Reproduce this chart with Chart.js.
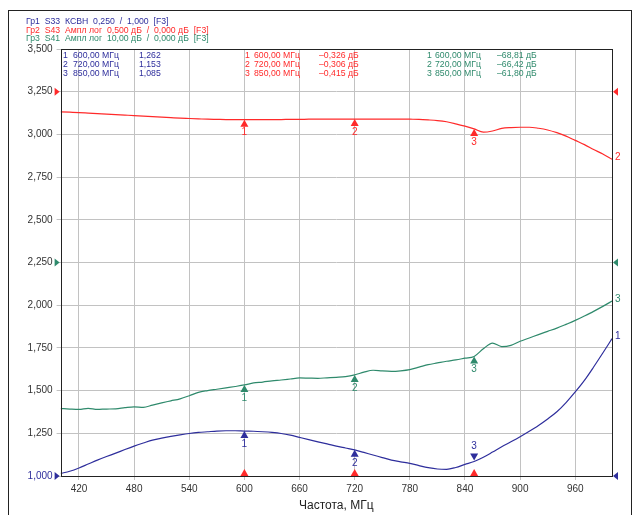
<!DOCTYPE html>
<html>
<head>
<meta charset="utf-8">
<script src="https://cdn.jsdelivr.net/npm/chart.js@4.4.1/dist/chart.umd.min.js"></script>
<style>
  html, body { margin: 0; padding: 0; background: #fff; overflow: hidden; }
  .wrap { position: relative; width: 636px; height: 515px; }
  .frame { position: absolute; left: 8px; top: 10px; width: 624px; height: 520px; border: 1px solid #222; box-sizing: border-box; }
  .chart { position: absolute; left: 0; top: 0; }
</style>
</head>
<body>
<div class="wrap">
  <div class="frame"></div>
  <canvas class="chart" width="636" height="515"></canvas>
</div>
<script>
(function() {

    // sweep frequencies, MHz
    let freqs = [
      400, 410, 420, 430, 440, 450, 460, 470, 480, 490,
      500, 510, 520, 530, 540, 550, 560, 570, 580, 590,
      600, 610, 620, 630, 640, 650, 660, 670, 680, 690,
      700, 710, 720, 730, 740, 750, 760, 770, 780, 790,
      800, 810, 820, 830, 840, 850, 860, 870, 880, 890,
      900, 910, 920, 930, 940, 950, 960, 970, 980, 990, 1000
    ];

    // Гр1 S33 КСВН (screen units)
    let s33Trace = [
      1.015, 1.028, 1.047, 1.070, 1.093, 1.114, 1.134, 1.155, 1.175, 1.193,
      1.210, 1.222, 1.232, 1.241, 1.249, 1.255, 1.259, 1.263, 1.265, 1.265,
      1.263, 1.262, 1.259, 1.255, 1.249, 1.239, 1.226, 1.213, 1.200, 1.188,
      1.175, 1.164, 1.153, 1.138, 1.123, 1.108, 1.093, 1.083, 1.074, 1.061,
      1.049, 1.041, 1.039, 1.050, 1.068, 1.085, 1.110, 1.140, 1.171, 1.200,
      1.230, 1.262, 1.296, 1.334, 1.376, 1.430, 1.492, 1.560, 1.638, 1.720, 1.804
    ];

    // Гр2 S43 Ампл лог (screen units)
    let s43Trace = [
      3.132, 3.130, 3.128, 3.125, 3.122, 3.119, 3.116, 3.113, 3.110, 3.107,
      3.104, 3.101, 3.098, 3.095, 3.093, 3.091, 3.089, 3.088, 3.087, 3.087,
      3.086, 3.086, 3.086, 3.087, 3.087, 3.088, 3.088, 3.089, 3.089, 3.090,
      3.090, 3.090, 3.090, 3.090, 3.090, 3.090, 3.090, 3.090, 3.089, 3.088,
      3.085, 3.081, 3.074, 3.062, 3.048, 3.032, 3.013, 3.020, 3.035, 3.040,
      3.042, 3.042, 3.036, 3.026, 3.010, 2.990, 2.965, 2.940, 2.912, 2.885, 2.855
    ];

    // Гр3 S41 Ампл лог (screen units)
    let s41Trace = [
      1.395, 1.392, 1.390, 1.396, 1.390, 1.392, 1.393, 1.400, 1.405, 1.402,
      1.415, 1.428, 1.440, 1.452, 1.470, 1.490, 1.500, 1.508, 1.516, 1.524,
      1.533, 1.545, 1.550, 1.557, 1.562, 1.568, 1.574, 1.573, 1.572, 1.575,
      1.578, 1.582, 1.592, 1.608, 1.619, 1.615, 1.613, 1.616, 1.623, 1.637,
      1.652, 1.662, 1.672, 1.680, 1.690, 1.700, 1.745, 1.778, 1.758, 1.765,
      1.789, 1.808, 1.828, 1.847, 1.866, 1.888, 1.911, 1.937, 1.964, 1.993, 2.024
    ];

    let xTicks = [420, 480, 540, 600, 660, 720, 780, 840, 900, 960];
    let yTicks = [1, 1.25, 1.5, 1.75, 2, 2.25, 2.5, 2.75, 3, 3.25, 3.5];

    // markers
    let markerFreqs = [600, 720, 850];
    let s33Markers = [1.262, 1.153, 1.085];
    let s43Markers = [-0.326, -0.306, -0.415];
    let s41Markers = [-68.81, -66.42, -61.80];

    // reference levels of each trace (screen units)
    let refLevels = [1.0, 3.25, 2.25];

    let headerLines = [
      'Гр1  S33  КСВН  0,250  /  1,000  [F3]',
      'Гр2  S43  Ампл лог  0,500 дБ  /  0,000 дБ  [F3]',
      'Гр3  S41  Ампл лог  10,00 дБ  /  0,000 дБ  [F3]'
    ];

    let BLUE = '#2e2e9c';
    let RED = '#ff2a2a';
    let GREEN = '#2f8a6c';
    let colors = [BLUE, RED, GREEN];
    let traces = [s33Trace, s43Trace, s41Trace];
    let FONT = '"Liberation Sans", Arial, sans-serif';

    let comma = (v, d) => v.toFixed(d).replace('.', ',');
    let signed = (v, d) => (v < 0 ? '\u2013' : '') + comma(Math.abs(v), d);

    let toPoints = values => values.map((v, i) => ({ x: freqs[i], y: v }));

    /**
     * Draws a small triangle, tip at (x, y)
     */
    let triangle = (ctx, x, y, dir, color, s = 4) => {
        ctx.fillStyle = color;
        ctx.beginPath();
        if(dir === 'up') {
            ctx.moveTo(x, y); ctx.lineTo(x - s, y + 2 * s - 1); ctx.lineTo(x + s, y + 2 * s - 1);
        } else if(dir === 'down') {
            ctx.moveTo(x, y); ctx.lineTo(x - s, y - 2 * s + 1); ctx.lineTo(x + s, y - 2 * s + 1);
        } else if(dir === 'right') {
            ctx.moveTo(x, y); ctx.lineTo(x - 5, y - s); ctx.lineTo(x - 5, y + s);
        } else {
            ctx.moveTo(x, y); ctx.lineTo(x + 5, y - s); ctx.lineTo(x + 5, y + s);
        }
        ctx.closePath();
        ctx.fill();
    };

    let text = (ctx, str, x, y, color, size = 8.7, align = 'left') => {
        ctx.font = size + 'px ' + FONT;
        ctx.fillStyle = color;
        ctx.textAlign = align;
        ctx.textBaseline = 'middle';
        ctx.fillText(str, x, y);
    };

    /**
     * Draws the analyzer decorations: header, marker tables, markers, frame
     */
    let overlay = {
        id: 'overlay',
        afterDraw: chart => {
            let { ctx, chartArea: a, scales: { x, y } } = chart;
            ctx.save();

            // plot frame
            ctx.strokeStyle = '#222';
            ctx.lineWidth = 1;
            ctx.strokeRect(Math.round(a.left) + 0.5, Math.round(a.top) + 0.5,
                Math.round(a.right - a.left), Math.round(a.bottom - a.top));

            // header lines
            headerLines.forEach((line, i) => text(ctx, line, 26, 21.5 + 8.7 * i, colors[i]));

            // marker tables
            markerFreqs.forEach((f, i) => {
                let row = 55.5 + 9.2 * i;
                let fStr = comma(f, 2) + ' МГц';
                text(ctx, String(i + 1), 63, row, BLUE);
                text(ctx, fStr, 73, row, BLUE);
                text(ctx, comma(s33Markers[i], 3), 139, row, BLUE);

                text(ctx, String(i + 1), 245, row, RED);
                text(ctx, fStr, 254, row, RED);
                text(ctx, signed(s43Markers[i], 3) + ' дБ', 319, row, RED);

                text(ctx, String(i + 1), 427, row, GREEN);
                text(ctx, fStr, 435, row, GREEN);
                text(ctx, signed(s41Markers[i], 2) + ' дБ', 497, row, GREEN);
            });

            // markers on traces
            markerFreqs.forEach((f, i) => {
                let idx = freqs.indexOf(f);
                let px = x.getPixelForValue(f);
                traces.forEach((tr, t) => {
                    let py = y.getPixelForValue(tr[idx]);
                    if(t === 0 && i === 2) {
                        triangle(ctx, px, py - 1, 'down', colors[t]);
                        text(ctx, String(i + 1), px, py - 15, colors[t], 10, 'center');
                    } else {
                        triangle(ctx, px, py, 'up', colors[t]);
                        text(ctx, String(i + 1), px, py + 13, colors[t], 10, 'center');
                    }
                });
                // stimulus markers on the x axis
                triangle(ctx, px, a.bottom - 7, 'up', RED);
            });

            // reference level pointers
            refLevels.forEach((lv, t) => {
                let py = y.getPixelForValue(lv);
                triangle(ctx, a.left - 1, py, 'right', colors[t]);
                triangle(ctx, a.right + 1, py, 'left', colors[t]);
            });

            // trace numbers at the right end
            [2, 3, 1].forEach(n => {
                let tr = traces[n - 1];
                let py = y.getPixelForValue(tr[tr.length - 1]);
                text(ctx, String(n), a.right + 3, py - 2, colors[n - 1], 10);
            });

            // axis title
            text(ctx, 'Частота, МГц', (a.left + a.right) / 2, 506, '#222', 12, 'center');

            ctx.restore();
        }
    };

    let ctx = document.querySelector('.chart');

    new Chart(ctx, {
        type: 'line',
        data: {
            datasets: traces.map((tr, t) => ({
                data: toPoints(tr),
                borderColor: colors[t],
                borderWidth: 1.2,
                pointRadius: 0,
                cubicInterpolationMode: 'monotone'
            }))
        },
        options: {
            responsive: false,
            animation: false,
            layout: { padding: { left: 8.6, right: 24, top: 49, bottom: 0 } },
            plugins: { legend: { display: false }, tooltip: { enabled: false } },
            scales: {
                x: {
                    type: 'linear',
                    min: 400,
                    max: 1000,
                    afterFit: scale => { scale.height = 39; },
                    afterBuildTicks: scale => { scale.ticks = xTicks.map(v => ({ value: v })); },
                    grid: { color: '#c2c2c2', tickLength: 4, tickColor: '#c2c2c2' },
                    border: { display: false },
                    ticks: {
                        padding: 3,
                        color: '#333',
                        font: { family: FONT, size: 10 },
                        callback: v => String(v)
                    }
                },
                y: {
                    min: 1,
                    max: 3.5,
                    afterFit: scale => { scale.width = 52; },
                    afterBuildTicks: scale => { scale.ticks = yTicks.map(v => ({ value: v })); },
                    grid: { color: '#c2c2c2', tickLength: 4, tickColor: '#c2c2c2' },
                    border: { display: false },
                    ticks: {
                        padding: 4,
                        color: c => c.tick && c.tick.value === 1 ? BLUE : '#333',
                        font: { family: FONT, size: 10 },
                        callback: v => comma(v, 3)
                    }
                }
            }
        },
        plugins: [overlay]
    });

})()
</script>
</body>
</html>
